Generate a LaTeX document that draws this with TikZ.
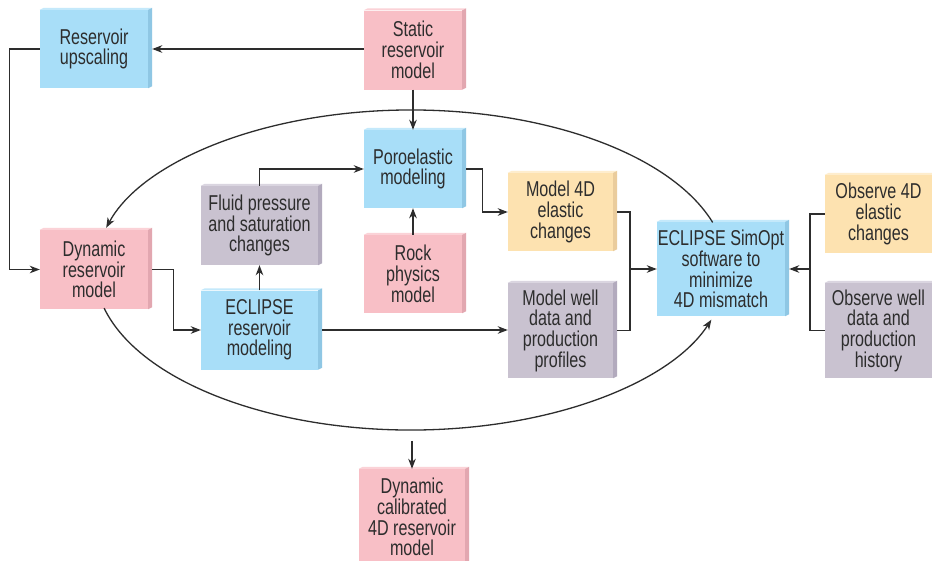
\documentclass[tikz,border=0pt]{standalone}
\usepackage{fontspec}
\setmainfont{Liberation Sans}[FakeStretch=0.75]
\usepackage{xcolor}
\usetikzlibrary{arrows.meta,positioning,calc}

\definecolor{pinkF}{RGB}{248,191,198}
\definecolor{pinkS}{RGB}{226,167,176}
\definecolor{pinkT}{RGB}{251,210,215}
\definecolor{blueF}{RGB}{168,222,248}
\definecolor{blueS}{RGB}{143,199,228}
\definecolor{blueT}{RGB}{196,233,251}
\definecolor{greyF}{RGB}{201,194,208}
\definecolor{greyS}{RGB}{178,170,189}
\definecolor{greyT}{RGB}{218,213,224}
\definecolor{tanF}{RGB}{253,226,176}
\definecolor{tanS}{RGB}{234,204,156}
\definecolor{tanT}{RGB}{254,237,205}
\definecolor{ink}{RGB}{45,45,45}

\begin{document}
\begin{tikzpicture}[x=1pt, y=-1pt,
    every node/.style={font=\fontsize{21.5}{20.7}\selectfont, text=ink, align=center, inner sep=0pt},
    blk/.style={minimum width=#1},
    pinkbox/.style={fill=pinkF},
    bluebox/.style={fill=blueF},
    greybox/.style={fill=greyF},
    tanbox/.style={fill=tanF},
    flow/.style={draw=ink, line width=1.3pt, -{Stealth[length=10pt,width=7.5pt,inset=3pt]}},
    link/.style={draw=ink, line width=1.3pt}]
    \clip (0,0) rectangle (932,560);
    \fill[white] (0,0) rectangle (932,560);

    % boxes
    \node[pinkbox, blk=98pt,  minimum height=79pt] (static) at (413,50)    {Static\\reservoir\\model};
    \node[bluebox, blk=108pt, minimum height=78pt] (upsc)   at (94,49)     {Reservoir\\upscaling};
    \node[bluebox, blk=98pt,  minimum height=78pt] (poro)   at (413,169)   {Poroelastic\\modeling};
    \node[greybox, blk=117pt, minimum height=79pt] (fluid)  at (259.5,225.5) {Fluid pressure\\and saturation\\changes};
    \node[pinkbox, blk=98pt,  minimum height=78pt] (rock)   at (413,274)   {Rock\\physics\\model};
    \node[pinkbox, blk=108pt, minimum height=79pt] (dyn)    at (94,269.5)  {Dynamic\\reservoir\\model};
    \node[bluebox, blk=117pt, minimum height=79pt] (eclres) at (259.5,330) {ECLIPSE\\reservoir\\modeling};
    \node[tanbox,  blk=105pt, minimum height=78pt] (m4d)    at (560.5,212) {Model 4D\\elastic\\changes};
    \node[greybox, blk=105pt, minimum height=95pt] (mwell)  at (560.5,330.5) {Model well\\data and\\production\\profiles};
    \node[bluebox, blk=128pt, minimum height=94pt] (simopt) at (721,269)   {ECLIPSE SimOpt\\software to\\minimize\\4D mismatch};
    \node[tanbox,  blk=107pt, minimum height=78pt] (o4d)    at (878.5,214) {Observe 4D\\elastic\\changes};
    \node[greybox, blk=107pt, minimum height=95pt] (owell)  at (878.5,330.5) {Observe well\\data and\\production\\history};
    \node[pinkbox, blk=106pt, minimum height=96pt] (cal)    at (412,517)   {Dynamic\\calibrated\\4D reservoir\\model};

    % raised top and side faces
    \foreach \n/\c in {static/pink,upsc/blue,poro/blue,fluid/grey,rock/pink,dyn/pink,eclres/blue,m4d/tan,mwell/grey,simopt/blue,o4d/tan,owell/grey,cal/pink}{
      \fill[\c T] (\n.north west) -- ++(4,-2) -- ($(\n.north east)+(4,-2)$) -- (\n.north east) -- cycle;
      \fill[\c S] (\n.north east) -- ++(4,-2) -- ($(\n.south east)+(4,-2)$) -- (\n.south east) -- cycle;
    }

    % connectors
    \draw[flow] (static.west |- upsc.east) -- ([xshift=4pt]upsc.east);
    \draw[flow] (upsc.west) -- ++(-30,0) |- (dyn.west);
    \draw[flow] (static.south) -- (poro.north);
    \draw[flow] (rock.north) -- (poro.south);
    \draw[flow] (fluid.north) |- (poro.west);
    \draw[flow] (eclres.north) -- (fluid.south);
    \draw[flow] ([xshift=4pt]dyn.east) -- ++(21,0) |- (eclres.west);
    \draw[flow] ([xshift=4pt]poro.east) -- ++(16,0) |- (m4d.west);
    \draw[flow] ([xshift=4pt]eclres.east) -- (eclres.east -| mwell.west);

    \coordinate (jl) at (630,269);
    \draw[link] ([xshift=4pt]m4d.east) -| (jl);
    \draw[link] ([xshift=4pt]mwell.east) -| (jl);
    \draw[flow] (jl) -- (simopt.west);

    \coordinate (jr) at (810,269);
    \draw[link] (o4d.west) -| (jr);
    \draw[link] (owell.west) -| (jr);
    \draw[flow] (jr) -- ([xshift=4pt]simopt.east);

    \coordinate (calin) at ([yshift=28pt]cal.north);
    \draw[flow] (calin) -- (cal.north);

    % loop round the middle
    \draw[flow] (411,270) ++(-17.3:316 and 160) arc[start angle=-17.3, end angle=-164.7, x radius=316, y radius=160];
    \draw[flow] (411,270) ++(166.2:316 and 160) arc[start angle=166.2, end angle=18.1, x radius=316, y radius=160];
\end{tikzpicture}
\end{document}
